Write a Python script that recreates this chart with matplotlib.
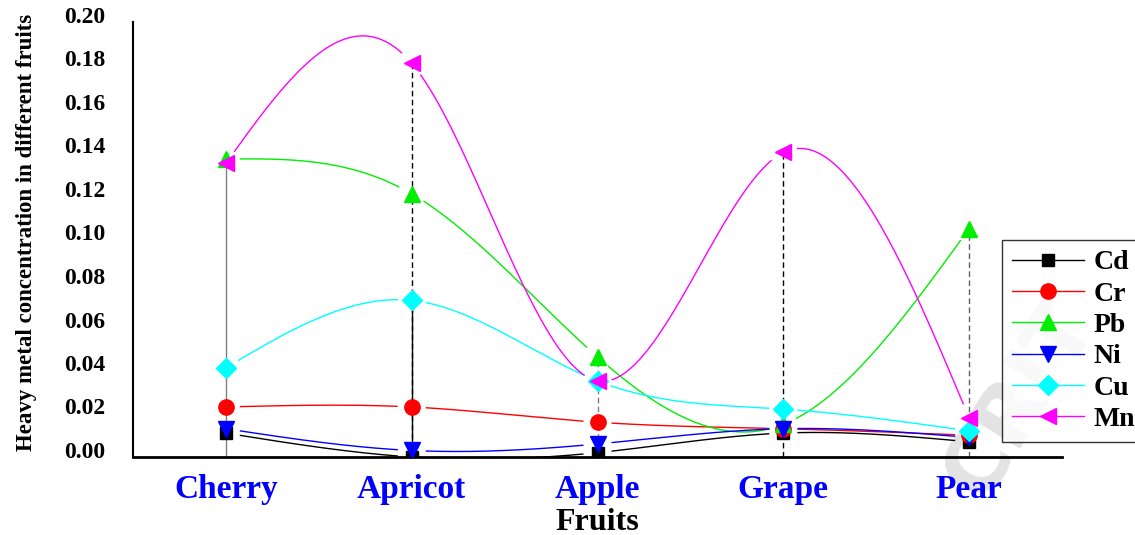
import numpy as np
import matplotlib
matplotlib.use("Agg")
import matplotlib.pyplot as plt
from matplotlib.transforms import ScaledTranslation

fruits = ["Cherry", "Apricot", "Apple", "Grape", "Pear"]
metals = ["Cd", "Cr", "Pb", "Ni", "Cu", "Mn"]
cd = [0.011, 0.000, 0.002, 0.011, 0.007]
cr = [0.023, 0.023, 0.016, 0.013, 0.010]
pb = [0.137, 0.121, 0.046, 0.015, 0.105]
ni = [0.013, 0.003, 0.006, 0.013, 0.009]
cu = [0.041, 0.072, 0.035, 0.022, 0.012]
mn = [0.135, 0.181, 0.035, 0.140, 0.018]
yticks = [0.00, 0.02, 0.04, 0.06, 0.08, 0.10, 0.12, 0.14, 0.16, 0.18, 0.20]

series = [cd, cr, pb, ni, cu, mn]
colors = ["#000000", "#ff0000", "#00ee00", "#0000ff", "#00ffff", "#ff00ff"]
markers = ["s", "o", "^", "v", "D", "<"]
msizes = [9, 11, 12, 12, 10, 12]

plt.rcParams['font.family'] = ['Liberation Serif', 'DejaVu Serif']

fig = plt.figure(figsize=(11.35, 5.35), dpi=100)
L, R, B, T = 133, 1062, 457, 22
W, H = 1135, 535
ax = fig.add_axes([L / W, (H - B) / H, (R - L) / W, (B - T) / H])
ax.patch.set_alpha(0)


def natural_spline(x, y, xs):
    """Natural cubic spline through the data points (for drawing only)."""
    x = np.asarray(x, float)
    y = np.asarray(y, float)
    n = len(x)
    h = np.diff(x)
    A = np.zeros((n, n))
    rhs = np.zeros(n)
    A[0, 0] = 1
    A[-1, -1] = 1
    for i in range(1, n - 1):
        A[i, i - 1] = h[i - 1]
        A[i, i] = 2 * (h[i - 1] + h[i])
        A[i, i + 1] = h[i]
        rhs[i] = 6 * ((y[i + 1] - y[i]) / h[i] - (y[i] - y[i - 1]) / h[i - 1])
    M = np.linalg.solve(A, rhs)
    out = np.empty_like(xs)
    for k, xv in enumerate(xs):
        i = min(max(np.searchsorted(x, xv) - 1, 0), n - 2)
        t1 = x[i + 1] - xv
        t0 = xv - x[i]
        out[k] = (M[i] * t1 ** 3 + M[i + 1] * t0 ** 3) / (6 * h[i]) \
            + (y[i] / h[i] - M[i] * h[i] / 6) * t1 \
            + (y[i + 1] / h[i] - M[i + 1] * h[i] / 6) * t0
    return out


xpos = np.arange(len(fruits))
xs = np.linspace(0, len(fruits) - 1, 2400)

# pixel scale of the axes (for the small gap left around each marker)
px_x = (R - L) / 5.0
px_y = (B - T) / 0.20

# drop lines
tops = [max(s[i] for s in series) for i in range(len(fruits))]
drop_styles = [("#808080", "-"), ("#000000", "--"), ("#808080", "--"),
               ("#000000", "--"), ("#606060", "--")]
for i, (c, ls) in enumerate(drop_styles):
    ax.plot([xpos[i], xpos[i]], [0, tops[i]], color=c, ls=ls, lw=1.0,
            dashes=(4, 2.5) if ls == "--" else (None, None), zorder=1)
ax.plot([xpos[1], xpos[1]], [0, cu[1]], color="#000000", lw=1.0, zorder=1)

gap_px = 14.5
for s, c, m, ms, name in zip(series, colors, markers, msizes, metals):
    ys = natural_spline(xpos, s, xs)
    sv = np.asarray(s)
    d = np.min(np.hypot((xs[:, None] - xpos[None, :]) * px_x,
                        (ys[:, None] - sv[None, :]) * px_y), axis=1)
    ys = np.where(d < gap_px, np.nan, ys)
    ax.plot(xs, ys, color=c, lw=1.0, zorder=2)
    ax.plot(xpos, s, ls="none", marker=m, ms=ms, color=c, mec=c, zorder=3)

ax.set_xlim(-0.5, 4.5)
ax.set_ylim(0, 0.20)
ax.set_yticks(yticks)
ax.set_yticklabels([f"{v:.2f}" for v in yticks], fontsize=17, fontweight="bold")
ax.set_xticks(xpos)
ax.set_xticklabels(fruits, fontsize=24, fontweight="bold", color="#0000ff")
ax.tick_params(axis="both", length=0)
ax.tick_params(axis="y", pad=20)
ax.tick_params(axis="x", pad=12)
for lab in ax.get_yticklabels():
    lab.set_transform(lab.get_transform() + ScaledTranslation(0, 0.07, fig.dpi_scale_trans))
for sp in ["top", "right"]:
    ax.spines[sp].set_visible(False)
ax.spines["left"].set_linewidth(1.5)
ax.spines["bottom"].set_linewidth(2.0)

ax.set_xlabel("Fruits", fontsize=23, fontweight="bold")
ax.xaxis.set_label_coords(0.5, -(522 - 457) / (B - T), transform=ax.transAxes)
ax.xaxis.label.set_va("center")
ax.set_ylabel("Heavy metal concentration in different fruits", fontsize=16.5,
              fontweight="bold")
ax.yaxis.set_label_coords((27 - L) / (R - L), (457 - 232) / (B - T))
ax.yaxis.label.set_va("center")
ax.yaxis.label.set_ha("center")

# legend
handles = []
for c, m, ms, name in zip(colors, markers, msizes, metals):
    h, = ax.plot([], [], color=c, lw=1.0, marker=m, ms=ms, mec=c, label=name)
    handles.append(h)
leg = fig.legend(handles=handles, loc="upper left",
                 bbox_to_anchor=(1002 / W, 1 - 240 / H), borderaxespad=0,
                 prop={"size": 20, "weight": "bold"}, frameon=True,
                 fancybox=False, edgecolor="black", handlelength=2.6,
                 handletextpad=0.35, labelspacing=0.21, borderpad=0.36)
leg.get_frame().set_linewidth(1.0)

# watermark
fig.text(1020 / W, 1 - 400 / H, "CRIT", fontsize=60, color="#e3e3e3",
         rotation=58, ha="center", va="center", family="DejaVu Sans",
         fontweight="bold", zorder=-1)

fig.savefig("out.png", dpi=100)
